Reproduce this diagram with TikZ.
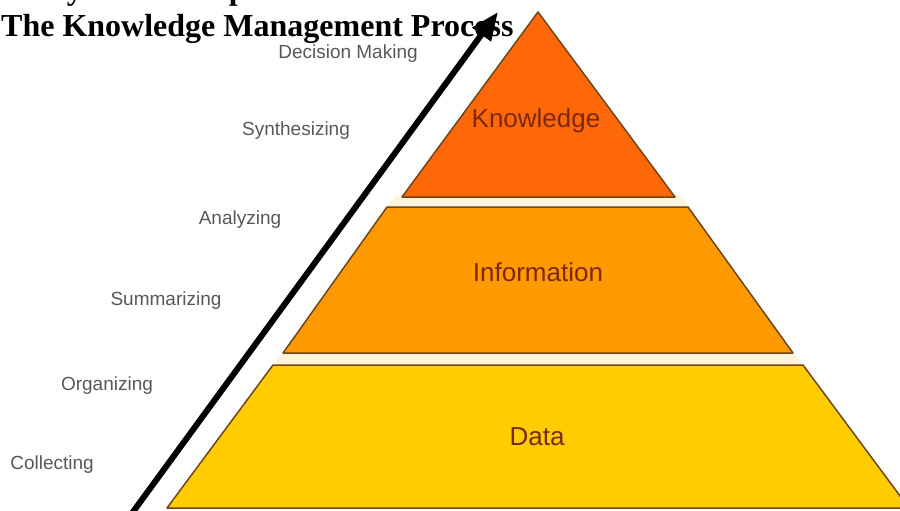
\documentclass[tikz,border=0pt]{standalone}
\usepackage{fontspec}
\setmainfont{Liberation Serif}
\newfontfamily\arialf{Liberation Sans}
\usetikzlibrary{arrows.meta}
\definecolor{knfill}{RGB}{255,104,8}
\definecolor{infill}{RGB}{255,153,0}
\definecolor{dafill}{RGB}{255,204,0}
\definecolor{edgec}{RGB}{110,70,25}
\definecolor{lvltext}{RGB}{125,40,12}
\definecolor{steptext}{RGB}{88,88,88}
\definecolor{gapc}{RGB}{255,243,220}
\tikzset{
  tier/.style = {draw=edgec, line width=1.5pt, line join=round},
  tier_k/.style = {tier, fill=knfill},
  tier_i/.style = {tier, fill=infill},
  tier_d/.style = {tier, fill=dafill},
  tier_gap/.style = {fill=gapc},
  lvl_lbl/.style = {anchor=base, inner sep=0pt, text=lvltext, font=\arialf\fontsize{26}{30}\selectfont},
  step_lbl/.style = {anchor=base, inner sep=0pt, text=steptext, font=\arialf\fontsize{19}{22}\selectfont},
  head_lbl/.style = {anchor=base west, inner sep=0pt, font=\bfseries\fontsize{32}{37}\selectfont},
  up_arrow/.style = {line width=6pt, -{Triangle[length=28pt,width=22pt]}}
}
\begin{document}
\begin{tikzpicture}[x=1pt,y=-1pt]
	\useasboundingbox (0,0) rectangle (900,511);
	\clip (0,0) rectangle (900,511);
	\fill[tier_gap] (396,196) -- (681,196) -- (691,208) -- (385,208) -- cycle;
	\fill[tier_gap] (285,352) -- (791,352) -- (805,366) -- (271,366) -- cycle;
	\draw[tier_k] (538,12) -- (675,197) -- (402,197) -- cycle;
	\draw[tier_i] (387,207) -- (688,207) -- (793,353) -- (283,353) -- cycle;
	\draw[tier_d] (273,365) -- (803,365) -- (909,508) -- (167,508) -- cycle;
	\node[lvl_lbl] (knowledge) at (536,128) {Knowledge};
	\node[lvl_lbl] (information) at (538,281) {Information};
	\node[lvl_lbl] (data) at (537,445) {Data};
	\node[step_lbl] (decide) at (348,59) {Decision Making};
	\node[step_lbl] (synth) at (296,135) {Synthesizing};
	\node[step_lbl] (analyze) at (240,224) {Analyzing};
	\node[step_lbl] (summ) at (166,305) {Summarizing};
	\node[step_lbl] (organize) at (107,390) {Organizing};
	\node[step_lbl] (collect) at (52,469) {Collecting};
	\coordinate (arr_s) at (130,516);
	\coordinate (arr_e) at (498,12);
	\node[head_lbl] (upper) at (1,0) {Analysis \& Interpretation};
	\node[head_lbl] (title) at (1,37) {The Knowledge Management Process};
	\draw[up_arrow] (arr_s) -- (arr_e);
\end{tikzpicture}
\end{document}
